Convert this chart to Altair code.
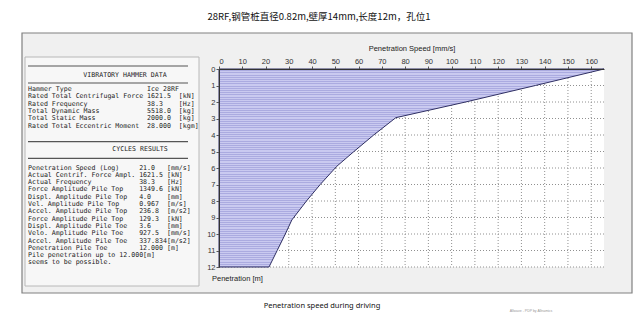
import altair as alt
import pandas as pd

# ---------------- data ----------------
depth_m = [0, 1, 2, 2.95, 4, 5, 5.9, 7, 8, 9.15, 10, 11, 12]
speed_mms = [165.5, 136, 106, 76, 66.5, 58, 50.6, 43.5, 37.6, 31.3, 28.5, 25, 21.5]

x_ticks = [0, 10, 20, 30, 40, 50, 60, 70, 80, 90, 100, 110, 120, 130, 140, 150, 160]
y_ticks = [0, 1, 2, 3, 4, 5, 6, 7, 8, 9, 10, 11, 12]

title_text = "28RF,钢管桩直径0.82m,壁厚14mm,长度12m，孔位1"
caption_text = "Penetration speed during driving"
x_title = "Penetration Speed [mm/s]"
y_title = "Penetration [m]"
footer_text = "Allwave - PDP by Allnamics"

hammer_header = "VIBRATORY HAMMER DATA"
hammer_lines = [
    "Hammer Type                   Ice 28RF",
    "Rated Total Centrifugal Force 1621.5  [kN]",
    "Rated Frequency               38.3    [Hz]",
    "Total Dynamic Mass            5518.0  [kg]",
    "Total Static Mass             2000.0  [kg]",
    "Rated Total Eccentric Moment  28.000  [kgm]",
]
cycles_header = "CYCLES RESULTS"
cycles_lines = [
    "Penetration Speed (Log)     21.0   [mm/s]",
    "Actual Centrif. Force Ampl. 1621.5 [kN]",
    "Actual Frequency            38.3   [Hz]",
    "Force Amplitude Pile Top    1349.6 [kN]",
    "Displ. Amplitude Pile Top   4.0    [mm]",
    "Vel. Amplitude Pile Top     0.967  [m/s]",
    "Accel. Amplitude Pile Top   236.8  [m/s2]",
    "Force Amplitude Pile Top    129.3  [kN]",
    "Displ. Amplitude Pile Toe   3.6    [mm]",
    "Velo. Amplitude Pile Toe    927.5  [mm/s]",
    "Accel. Amplitude Pile Toe   337.834[m/s2]",
    "Penetration Pile Toe        12.000 [m]",
    "Pile penetration up to 12.000[m]",
    " seems to be possible.",
]

# ---------------- layout ----------------
W, H = 385, 198
PAD = {"left": 219, "top": 69, "right": 36, "bottom": 54}
MONO = "DejaVu Sans Mono"
SANS = "Liberation Sans"

one = pd.DataFrame({"a": [0]})
profile = pd.DataFrame({"depth": depth_m, "speed": speed_mms})

xscale = alt.Scale(domain=[0, 165.5], nice=False, zero=True)
yscale = alt.Scale(domain=[0, 12], nice=False, reverse=True)

xaxis = alt.Axis(
    orient="top", values=x_ticks, title=x_title, grid=False, zindex=2,
    labelFont=SANS, labelFontSize=7.5, labelColor="#333", tickSize=3, tickColor="#555",
    domainColor="#333", titleFont=SANS, titleFontSize=7.5, titleFontWeight="normal",
    titleColor="#222", titlePadding=5, labelPadding=1)
yaxis = alt.Axis(
    orient="left", values=y_ticks, title=None, grid=False, zindex=2,
    labelFont=SANS, labelFontSize=7.5, labelColor="#333", tickSize=3, tickColor="#555",
    domainColor="#333", labelPadding=1)

# striped fill as a gradient
stops = []
n = 90
for i in range(n):
    a = i / n
    b = (i + 0.55) / n
    c = (i + 1) / n
    stops += [
        alt.GradientStop(offset=a, color="#cacaf0"),
        alt.GradientStop(offset=b, color="#cacaf0"),
        alt.GradientStop(offset=b, color="#ababe0"),
        alt.GradientStop(offset=c, color="#ababe0"),
    ]
stripes = alt.Gradient(gradient="linear", stops=stops, x1=0, x2=0, y1=0, y2=1)

panel = alt.Chart(one).mark_rect(fill="#f0f0f0", stroke="#808080", strokeWidth=1.2).encode(
    x=alt.value(-197), x2=alt.value(413), y=alt.value(-36), y2=alt.value(224)
)
leftbox = alt.Chart(one).mark_rect(fill="#f7f7f7", stroke="#b8b8b8", strokeWidth=1).encode(
    x=alt.value(-194), x2=alt.value(-20), y=alt.value(-12), y2=alt.value(217)
)
plotbg = alt.Chart(one).mark_rect(fill="white").encode(
    x=alt.value(0), x2=alt.value(W), y=alt.value(0), y2=alt.value(H)
)

area = alt.Chart(profile).mark_area(
    orient="horizontal", fill=stripes, stroke="#2f2f63", strokeWidth=1, interpolate="linear"
).encode(
    x=alt.X("speed:Q", scale=xscale, axis=xaxis),
    y=alt.Y("depth:Q", scale=yscale, axis=yaxis),
)

vgrid = alt.Chart(pd.DataFrame({"speed": x_ticks[1:]})).mark_rule(
    color="#909090", strokeDash=[1, 2], strokeWidth=1
).encode(x=alt.X("speed:Q", scale=xscale, axis=xaxis), y=alt.value(0), y2=alt.value(H))
hgrid = alt.Chart(pd.DataFrame({"depth": y_ticks[1:]})).mark_rule(
    color="#909090", strokeDash=[1, 2], strokeWidth=1
).encode(y=alt.Y("depth:Q", scale=yscale, axis=yaxis), x=alt.value(0), x2=alt.value(W))


def mono(s):
    return s.replace(" ", "\u00a0")


def txt(s, x, y, font=SANS, size=7.5, align="left", color="#222", lh=None, baseline="middle"):
    kw = dict(text=s, font=font, fontSize=size, align=align, baseline=baseline, color=color)
    if lh is not None:
        kw["lineBreak"] = "\n"
        kw["lineHeight"] = lh
    return alt.Chart(one).mark_text(**kw).encode(x=alt.value(x), y=alt.value(y))


def sep(y):
    return alt.Chart(one).mark_rule(color="#555", strokeWidth=1.2).encode(
        x=alt.value(-191), x2=alt.value(-31), y=alt.value(y)
    )


layers = [
    panel, leftbox, plotbg, vgrid, hgrid, area,
    txt(title_text, 100, -52, font="Noto Sans CJK SC", size=9.5, align="center", color="#111"),
    txt(caption_text, 103, 237, font="Noto Sans", size=7.5, align="center", color="#111"),
    txt(footer_text, 312, 242, size=3.5, align="center", color="#999"),
    txt(y_title, -7, 210, size=7.5, color="#222"),
    sep(-3), sep(14), sep(72.7), sep(89.3),
    txt(hammer_header, -94, 6, font=MONO, size=6.6, align="center"),
    txt(cycles_header, -79, 80, font=MONO, size=6.6, align="center"),
    txt("\n".join(mono(s) for s in hammer_lines), -191, 17, font=MONO, size=6.6, lh=7.3, baseline="top"),
    txt("\n".join(mono(s) for s in cycles_lines), -191, 95.5, font=MONO, size=6.6, lh=7.3, baseline="top"),
]

chart = alt.layer(*layers).properties(
    width=W, height=H,
    autosize=alt.AutoSizeParams(type="none"),
    padding=PAD,
    background="white",
).configure_view(stroke=None)

chart.save("out.html", embed_options={"renderer": "svg", "actions": False})
